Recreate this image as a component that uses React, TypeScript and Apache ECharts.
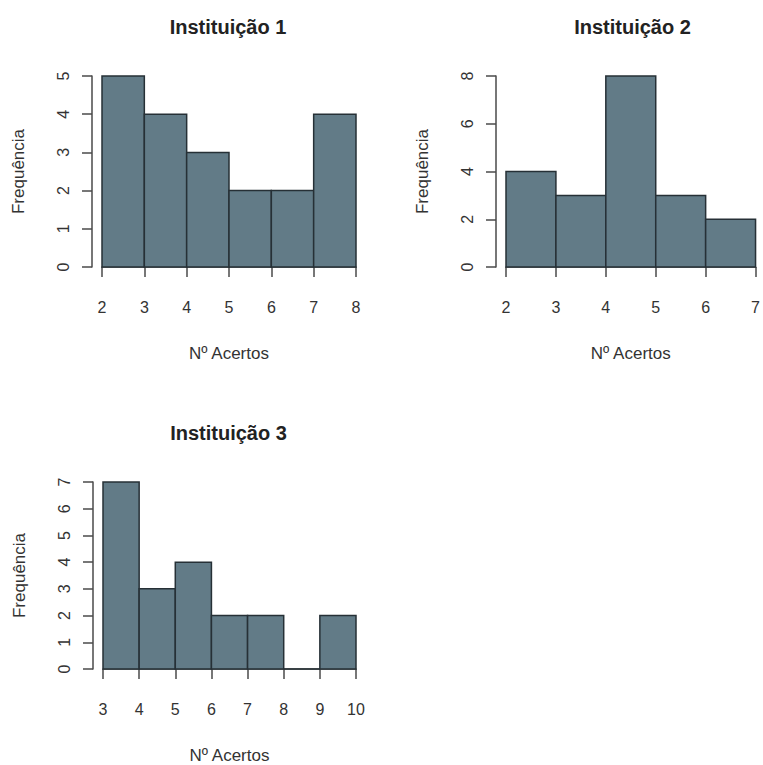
import React, { useEffect, useRef } from "react";
import * as echarts from "echarts";

const titles = ["Instituição 1", "Instituição 2", "Instituição 3"];
const xName = "Nº Acertos";
const yName = "Frequência";

const breaks1 = [2, 3, 4, 5, 6, 7, 8];
const counts1 = [5, 4, 3, 2, 2, 4];
const breaks2 = [2, 3, 4, 5, 6, 7];
const counts2 = [4, 3, 8, 3, 2];
const breaks3 = [3, 4, 5, 6, 7, 8, 9, 10];
const counts3 = [7, 3, 4, 2, 2, 0, 2];

const yMax = [5, 8, 7];
const yInterval = [1, 2, 1];

const FILL = "#627b87";
const STROKE = "#263036";
const AXIS = "#4a4a4a";
const TEXT = "#333333";
const FONT = "Liberation Sans, Arial, sans-serif";

function histData(breaks: number[], counts: number[]) {
  return counts.map((c, i) => [breaks[i], breaks[i + 1], c]);
}

export default function App() {
  const ref = useRef<HTMLDivElement>(null);
  useEffect(() => {
    document.body.style.margin = "0";
    const chart = echarts.init(ref.current!, undefined, { renderer: "svg" });
    const grids = [
      { left: 102, top: 76, width: 254, height: 191 },
      { left: 506, top: 76, width: 255, height: 191 },
      { left: 103, top: 482, width: 253, height: 191 },
    ];
    const allBreaks = [breaks1, breaks2, breaks3];
    const allCounts = [counts1, counts2, counts3];

    const xAxis = allBreaks.map((b, i) => ({
      type: "value",
      gridIndex: i,
      min: b[0],
      max: b[b.length - 1],
      interval: 1,
      offset: 9,
      splitLine: { show: false },
      axisLine: { show: true, lineStyle: { color: AXIS, width: 1.5 } },
      axisTick: { show: true, length: 10, lineStyle: { color: AXIS, width: 1.5 } },
      axisLabel: { show: true, margin: 23, fontSize: 16, color: TEXT, fontFamily: FONT, showMinLabel: true, showMaxLabel: true },
      name: xName,
      nameLocation: "middle",
      nameGap: 69,
      nameTextStyle: { fontSize: 17, color: TEXT, fontFamily: FONT },
    }));

    const yAxis = yMax.map((m, i) => ({
      type: "value",
      gridIndex: i,
      min: 0,
      max: m,
      interval: yInterval[i],
      offset: 10,
      splitLine: { show: false },
      axisLine: { show: true, lineStyle: { color: AXIS, width: 1.5 } },
      axisTick: { show: true, length: 10, lineStyle: { color: AXIS, width: 1.5 } },
      axisLabel: { show: true, rotate: 90, margin: 21, fontSize: 16, color: TEXT, fontFamily: FONT },
      name: yName,
      nameLocation: "middle",
      nameGap: 65,
      nameTextStyle: { fontSize: 17, color: TEXT, fontFamily: FONT },
    }));

    const series = allBreaks.map((b, i) => ({
      type: "custom",
      xAxisIndex: i,
      yAxisIndex: i,
      data: histData(b, allCounts[i]),
      encode: { x: [0, 1], y: 2 },
      renderItem: (params: any, api: any) => {
        const x0 = api.value(0);
        const x1 = api.value(1);
        const y = api.value(2);
        const p0 = api.coord([x0, y]);
        const p1 = api.coord([x1, 0]);
        return {
          type: "rect",
          shape: { x: p0[0], y: p0[1], width: p1[0] - p0[0], height: p1[1] - p0[1] },
          style: { fill: FILL, stroke: STROKE, lineWidth: 1.5 },
        };
      },
    }));

    const title = titles.map((t, i) => ({
      text: t,
      left: grids[i].left + grids[i].width / 2 - 6,
      top: grids[i].top - 64,
      textAlign: "center",
      textStyle: { fontSize: 20, fontWeight: "bold", color: "#222", fontFamily: FONT },
    }));

    chart.setOption({
      animation: false,
      backgroundColor: "#ffffff",
      title,
      grid: grids,
      xAxis,
      yAxis,
      series,
    });
    return () => chart.dispose();
  }, []);
  return <div ref={ref} style={{ width: 763, height: 765 }} />;
}
